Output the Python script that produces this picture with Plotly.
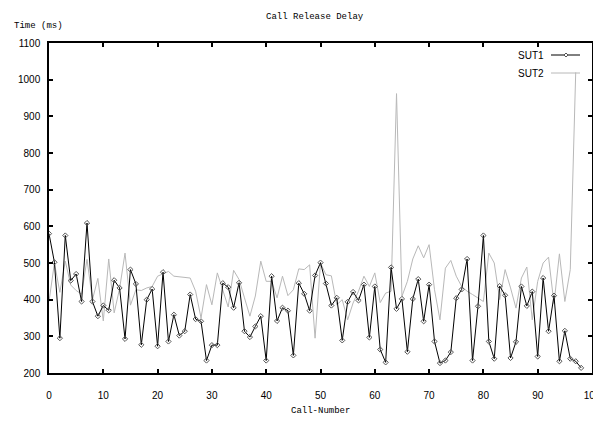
import plotly.graph_objects as go

call_number_sut1 = list(range(0, 99))
sut1_ms = [580, 502, 295, 575, 452, 470, 395, 609, 395, 355,
           384, 371, 453, 432, 293, 482, 443, 277, 400, 429,
           273, 475, 286, 359, 302, 314, 414, 347, 341, 234,
           276, 276, 445, 434, 378, 446, 314, 298, 327, 355,
           234, 464, 342, 378, 370, 248, 445, 416, 370, 466,
           501, 444, 384, 405, 289, 394, 421, 398, 441, 297,
           436, 264, 229, 488, 375, 402, 258, 402, 456, 341,
           441, 286, 227, 234, 257, 404, 428, 511, 234, 382,
           575, 286, 239, 437, 412, 241, 285, 436, 383, 422,
           245, 459, 314, 411, 232, 315, 239, 232, 214]

call_number_sut2 = list(range(0, 98))
sut2_ms = [395, 500, 420, 505, 440, 425, 415, 510, 400, 458,
           342, 511, 364, 430, 527, 385, 427, 425, 432, 436,
           464, 470, 477, 464, 462, 462, 459, 423, 350, 441,
           386, 473, 427, 380, 480, 455, 405, 355, 410, 505,
           450, 450, 405, 464, 411, 427, 484, 482, 495, 295,
           500, 468, 465, 386, 400, 345, 391, 423, 464, 436,
           473, 392, 418, 423, 962, 409, 450, 511, 547, 514,
           550, 427, 345, 486, 507, 464, 436, 423, 414, 405,
           395, 527, 500, 400, 482, 432, 377, 459, 489, 345,
           450, 500, 516, 389, 525, 395, 482, 1020]

x_ticks = list(range(0, 101, 10))
y_ticks = list(range(200, 1101, 100))

# page body has an 8px margin: the figure starts at (8, 8) in the window
OFF = 8
W, H = 601 - OFF, 421 - OFF
L, R, T, B = 49 - OFF, 592 - OFF, 43 - OFF, 373 - OFF
pw, ph = R - L, B - T


def px(x):
    return (x - OFF - L) / pw


def py(y):
    return (B - (y - OFF)) / ph


fig = go.Figure()
fig.add_trace(go.Scatter(x=call_number_sut2, y=sut2_ms, mode="lines", name="SUT2",
                         line=dict(color="#b8b8b8", width=1)))
fig.add_trace(go.Scatter(x=call_number_sut1, y=sut1_ms, mode="lines+markers", name="SUT1",
                         line=dict(color="#000000", width=1),
                         marker=dict(symbol="diamond-open", size=4, color="#555555",
                                     line=dict(width=1, color="#555555"))))

axis_common = dict(showline=True, linecolor="black", linewidth=1.5, mirror="ticks",
                   ticks="inside", ticklen=4, tickwidth=1.5, tickcolor="black",
                   showgrid=False, zeroline=False, automargin=False,
                   tickfont=dict(family="Liberation Sans", size=10, color="black"))

fig.update_xaxes(range=[0, 100], tickvals=x_ticks, ticklabelstandoff=12, **axis_common)
fig.update_yaxes(range=[200, 1100], tickvals=y_ticks, ticklabelstandoff=5, **axis_common)

mono = dict(family="Liberation Mono", size=9, color="black")
sans = dict(family="Liberation Sans", size=10, color="black")

annotations = [
    dict(text="Call Release Delay", x=px(315), y=py(17), xref="paper", yref="paper",
         showarrow=False, font=mono, xanchor="center", yanchor="middle"),
    dict(text="Time (ms)", x=px(38), y=py(26), xref="paper", yref="paper",
         showarrow=False, font=mono, xanchor="center", yanchor="middle"),
    dict(text="Call-Number", x=px(320), y=py(411), xref="paper", yref="paper",
         showarrow=False, font=mono, xanchor="center", yanchor="middle"),
    dict(text="SUT1", x=px(546), y=py(55), xref="paper", yref="paper",
         showarrow=False, font=sans, xanchor="right", yanchor="middle"),
    dict(text="SUT2", x=px(546), y=py(73), xref="paper", yref="paper",
         showarrow=False, font=sans, xanchor="right", yanchor="middle"),
]

shapes = [
    dict(type="line", xref="paper", yref="paper", x0=px(551), x1=px(580), y0=py(55), y1=py(55),
         line=dict(color="black", width=1)),
    dict(type="path", xref="paper", yref="paper", xsizemode="pixel", ysizemode="pixel",
         xanchor=px(566), yanchor=py(55), path="M 0,2 L 2,0 L 0,-2 L -2,0 Z",
         line=dict(color="#555555", width=1), fillcolor="white"),
    dict(type="line", xref="paper", yref="paper", x0=px(551), x1=px(580), y0=py(73), y1=py(73),
         line=dict(color="#b8b8b8", width=1)),
]

fig.update_layout(width=W, height=H, margin=dict(l=L, r=W - R, t=T, b=H - B, pad=0),
                  paper_bgcolor="white", plot_bgcolor="white", showlegend=False,
                  annotations=annotations, shapes=shapes)

fig.write_html("out.html")
